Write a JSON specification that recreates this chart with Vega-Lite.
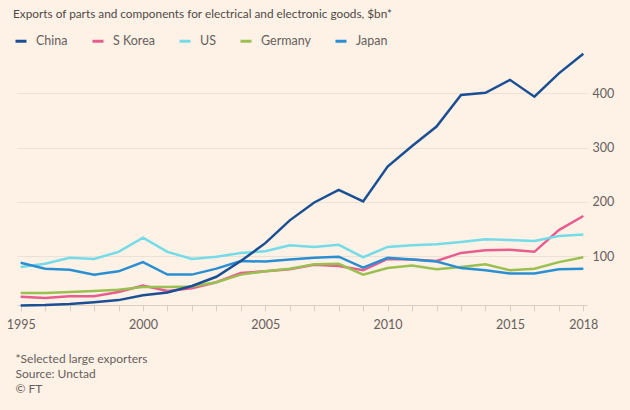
{
  "$schema": "https://vega.github.io/schema/vega-lite/v6.json",
  "autosize": {"type": "none"},
  "width": 570,
  "height": 255,
  "padding": {"left": 17, "top": 50, "right": 43, "bottom": 105},
  "background": "#fef1e6",
  "config": {
    "view": {"stroke": null},
    "font": "Lato"
  },
  "title": {
    "text": "Exports of parts and components for electrical and electronic goods, $bn*",
    "anchor": "start",
    "frame": "group",
    "dx": -4,
    "offset": 13,
    "font": "Lato",
    "fontSize": 11.8,
    "fontWeight": "normal",
    "color": "#4f4a47"
  },
  "datasets": {
    "exports": [
      {"year": 1995, "country": "S Korea", "value": 25},
      {"year": 1996, "country": "S Korea", "value": 23},
      {"year": 1997, "country": "S Korea", "value": 26},
      {"year": 1998, "country": "S Korea", "value": 26},
      {"year": 1999, "country": "S Korea", "value": 34},
      {"year": 2000, "country": "S Korea", "value": 46},
      {"year": 2001, "country": "S Korea", "value": 36},
      {"year": 2002, "country": "S Korea", "value": 41},
      {"year": 2003, "country": "S Korea", "value": 52},
      {"year": 2004, "country": "S Korea", "value": 69},
      {"year": 2005, "country": "S Korea", "value": 72},
      {"year": 2006, "country": "S Korea", "value": 76},
      {"year": 2007, "country": "S Korea", "value": 84},
      {"year": 2008, "country": "S Korea", "value": 82},
      {"year": 2009, "country": "S Korea", "value": 74},
      {"year": 2010, "country": "S Korea", "value": 95},
      {"year": 2011, "country": "S Korea", "value": 94},
      {"year": 2012, "country": "S Korea", "value": 91},
      {"year": 2013, "country": "S Korea", "value": 106},
      {"year": 2014, "country": "S Korea", "value": 111},
      {"year": 2015, "country": "S Korea", "value": 112},
      {"year": 2016, "country": "S Korea", "value": 108},
      {"year": 2017, "country": "S Korea", "value": 148},
      {"year": 2018, "country": "S Korea", "value": 174},
      {"year": 1995, "country": "US", "value": 80},
      {"year": 1996, "country": "US", "value": 86},
      {"year": 1997, "country": "US", "value": 97},
      {"year": 1998, "country": "US", "value": 95},
      {"year": 1999, "country": "US", "value": 108},
      {"year": 2000, "country": "US", "value": 134},
      {"year": 2001, "country": "US", "value": 108},
      {"year": 2002, "country": "US", "value": 95},
      {"year": 2003, "country": "US", "value": 99},
      {"year": 2004, "country": "US", "value": 106},
      {"year": 2005, "country": "US", "value": 109},
      {"year": 2006, "country": "US", "value": 120},
      {"year": 2007, "country": "US", "value": 117},
      {"year": 2008, "country": "US", "value": 121},
      {"year": 2009, "country": "US", "value": 98},
      {"year": 2010, "country": "US", "value": 117},
      {"year": 2011, "country": "US", "value": 120},
      {"year": 2012, "country": "US", "value": 122},
      {"year": 2013, "country": "US", "value": 126},
      {"year": 2014, "country": "US", "value": 131},
      {"year": 2015, "country": "US", "value": 130},
      {"year": 2016, "country": "US", "value": 128},
      {"year": 2017, "country": "US", "value": 137},
      {"year": 2018, "country": "US", "value": 140},
      {"year": 1995, "country": "Germany", "value": 32},
      {"year": 1996, "country": "Germany", "value": 32},
      {"year": 1997, "country": "Germany", "value": 34},
      {"year": 1998, "country": "Germany", "value": 36},
      {"year": 1999, "country": "Germany", "value": 38},
      {"year": 2000, "country": "Germany", "value": 43},
      {"year": 2001, "country": "Germany", "value": 43},
      {"year": 2002, "country": "Germany", "value": 44},
      {"year": 2003, "country": "Germany", "value": 52},
      {"year": 2004, "country": "Germany", "value": 66},
      {"year": 2005, "country": "Germany", "value": 72},
      {"year": 2006, "country": "Germany", "value": 77},
      {"year": 2007, "country": "Germany", "value": 85},
      {"year": 2008, "country": "Germany", "value": 86},
      {"year": 2009, "country": "Germany", "value": 66},
      {"year": 2010, "country": "Germany", "value": 78},
      {"year": 2011, "country": "Germany", "value": 83},
      {"year": 2012, "country": "Germany", "value": 76},
      {"year": 2013, "country": "Germany", "value": 80},
      {"year": 2014, "country": "Germany", "value": 85},
      {"year": 2015, "country": "Germany", "value": 74},
      {"year": 2016, "country": "Germany", "value": 77},
      {"year": 2017, "country": "Germany", "value": 89},
      {"year": 2018, "country": "Germany", "value": 98},
      {"year": 1995, "country": "Japan", "value": 88},
      {"year": 1996, "country": "Japan", "value": 77},
      {"year": 1997, "country": "Japan", "value": 75},
      {"year": 1998, "country": "Japan", "value": 66},
      {"year": 1999, "country": "Japan", "value": 72},
      {"year": 2000, "country": "Japan", "value": 89},
      {"year": 2001, "country": "Japan", "value": 66},
      {"year": 2002, "country": "Japan", "value": 66},
      {"year": 2003, "country": "Japan", "value": 77},
      {"year": 2004, "country": "Japan", "value": 91},
      {"year": 2005, "country": "Japan", "value": 90},
      {"year": 2006, "country": "Japan", "value": 94},
      {"year": 2007, "country": "Japan", "value": 97},
      {"year": 2008, "country": "Japan", "value": 99},
      {"year": 2009, "country": "Japan", "value": 79},
      {"year": 2010, "country": "Japan", "value": 97},
      {"year": 2011, "country": "Japan", "value": 94},
      {"year": 2012, "country": "Japan", "value": 90},
      {"year": 2013, "country": "Japan", "value": 78},
      {"year": 2014, "country": "Japan", "value": 74},
      {"year": 2015, "country": "Japan", "value": 68},
      {"year": 2016, "country": "Japan", "value": 68},
      {"year": 2017, "country": "Japan", "value": 76},
      {"year": 2018, "country": "Japan", "value": 77},
      {"year": 1995, "country": "China", "value": 9},
      {"year": 1996, "country": "China", "value": 10},
      {"year": 1997, "country": "China", "value": 12},
      {"year": 1998, "country": "China", "value": 15},
      {"year": 1999, "country": "China", "value": 19},
      {"year": 2000, "country": "China", "value": 28},
      {"year": 2001, "country": "China", "value": 33},
      {"year": 2002, "country": "China", "value": 45},
      {"year": 2003, "country": "China", "value": 62},
      {"year": 2004, "country": "China", "value": 91},
      {"year": 2005, "country": "China", "value": 124},
      {"year": 2006, "country": "China", "value": 166},
      {"year": 2007, "country": "China", "value": 199},
      {"year": 2008, "country": "China", "value": 222},
      {"year": 2009, "country": "China", "value": 201},
      {"year": 2010, "country": "China", "value": 265},
      {"year": 2011, "country": "China", "value": 303},
      {"year": 2012, "country": "China", "value": 339},
      {"year": 2013, "country": "China", "value": 397},
      {"year": 2014, "country": "China", "value": 401},
      {"year": 2015, "country": "China", "value": 425},
      {"year": 2016, "country": "China", "value": 394},
      {"year": 2017, "country": "China", "value": 437},
      {"year": 2018, "country": "China", "value": 473}
    ]
  },
  "data": {"name": "exports"},
  "mark": {"type": "line", "strokeWidth": 2.5, "clip": false, "strokeJoin": "miter"},
  "encoding": {
    "x": {
      "field": "year",
      "type": "quantitative",
      "scale": {"domain": [1994.85, 2018.15], "nice": false, "zero": false},
      "axis": {
        "values": [1995, 1996, 1997, 1998, 1999, 2000, 2001, 2002, 2003, 2004, 2005, 2006, 2007, 2008, 2009, 2010, 2011, 2012, 2013, 2014, 2015, 2016, 2017, 2018],
        "format": "d",
        "labelExpr": "indexof([1995, 2000, 2005, 2010, 2015, 2018], datum.value) >= 0 ? datum.label : ''",
        "labelFont": "Lato",
        "labelFontSize": 12.5,
        "labelColor": "#66605c",
        "labelPadding": 7,
        "labelOverlap": false,
        "labelFlush": false,
        "grid": false,
        "domain": true,
        "domainColor": "#d9cec4",
        "domainWidth": 1,
        "ticks": true,
        "tickColor": "#d9cec4",
        "tickSize": 6,
        "title": ["*Selected large exporters", "Source: Unctad", "© FT"],
        "titleFont": "Lato",
        "titleFontSize": 12,
        "titleFontWeight": "normal",
        "titleColor": "#66605c",
        "titleAnchor": "start",
        "titleAlign": "left",
        "titleBaseline": "top",
        "titleLineHeight": 15,
        "titleX": -2,
        "titleY": 48
      }
    },
    "y": {
      "field": "value",
      "type": "quantitative",
      "scale": {"domain": [10, 480], "nice": false, "zero": false},
      "axis": {
        "orient": "right",
        "values": [100, 200, 300, 400],
        "grid": true,
        "gridColor": "#ece1d7",
        "gridWidth": 1,
        "domain": false,
        "ticks": false,
        "labelFont": "Lato",
        "labelFontSize": 12.5,
        "labelColor": "#66605c",
        "labelPadding": 5,
        "labelAlign": "left",
        "title": null
      }
    },
    "color": {
      "field": "country",
      "type": "nominal",
      "scale": {
        "domain": ["China", "S Korea", "US", "Germany", "Japan"],
        "range": ["#1b4f93", "#e75d8d", "#74dbe8", "#9bc052", "#2a8fd2"]
      },
      "legend": {
        "orient": "none",
        "legendX": -3,
        "legendY": -16,
        "direction": "horizontal",
        "title": null,
        "symbolType": "stroke",
        "symbolSize": 121,
        "symbolStrokeWidth": 3,
        "labelFont": "Lato",
        "labelFontSize": 12.5,
        "labelColor": "#66605c",
        "labelOffset": 8,
        "columnPadding": 18
      }
    }
  }
}
